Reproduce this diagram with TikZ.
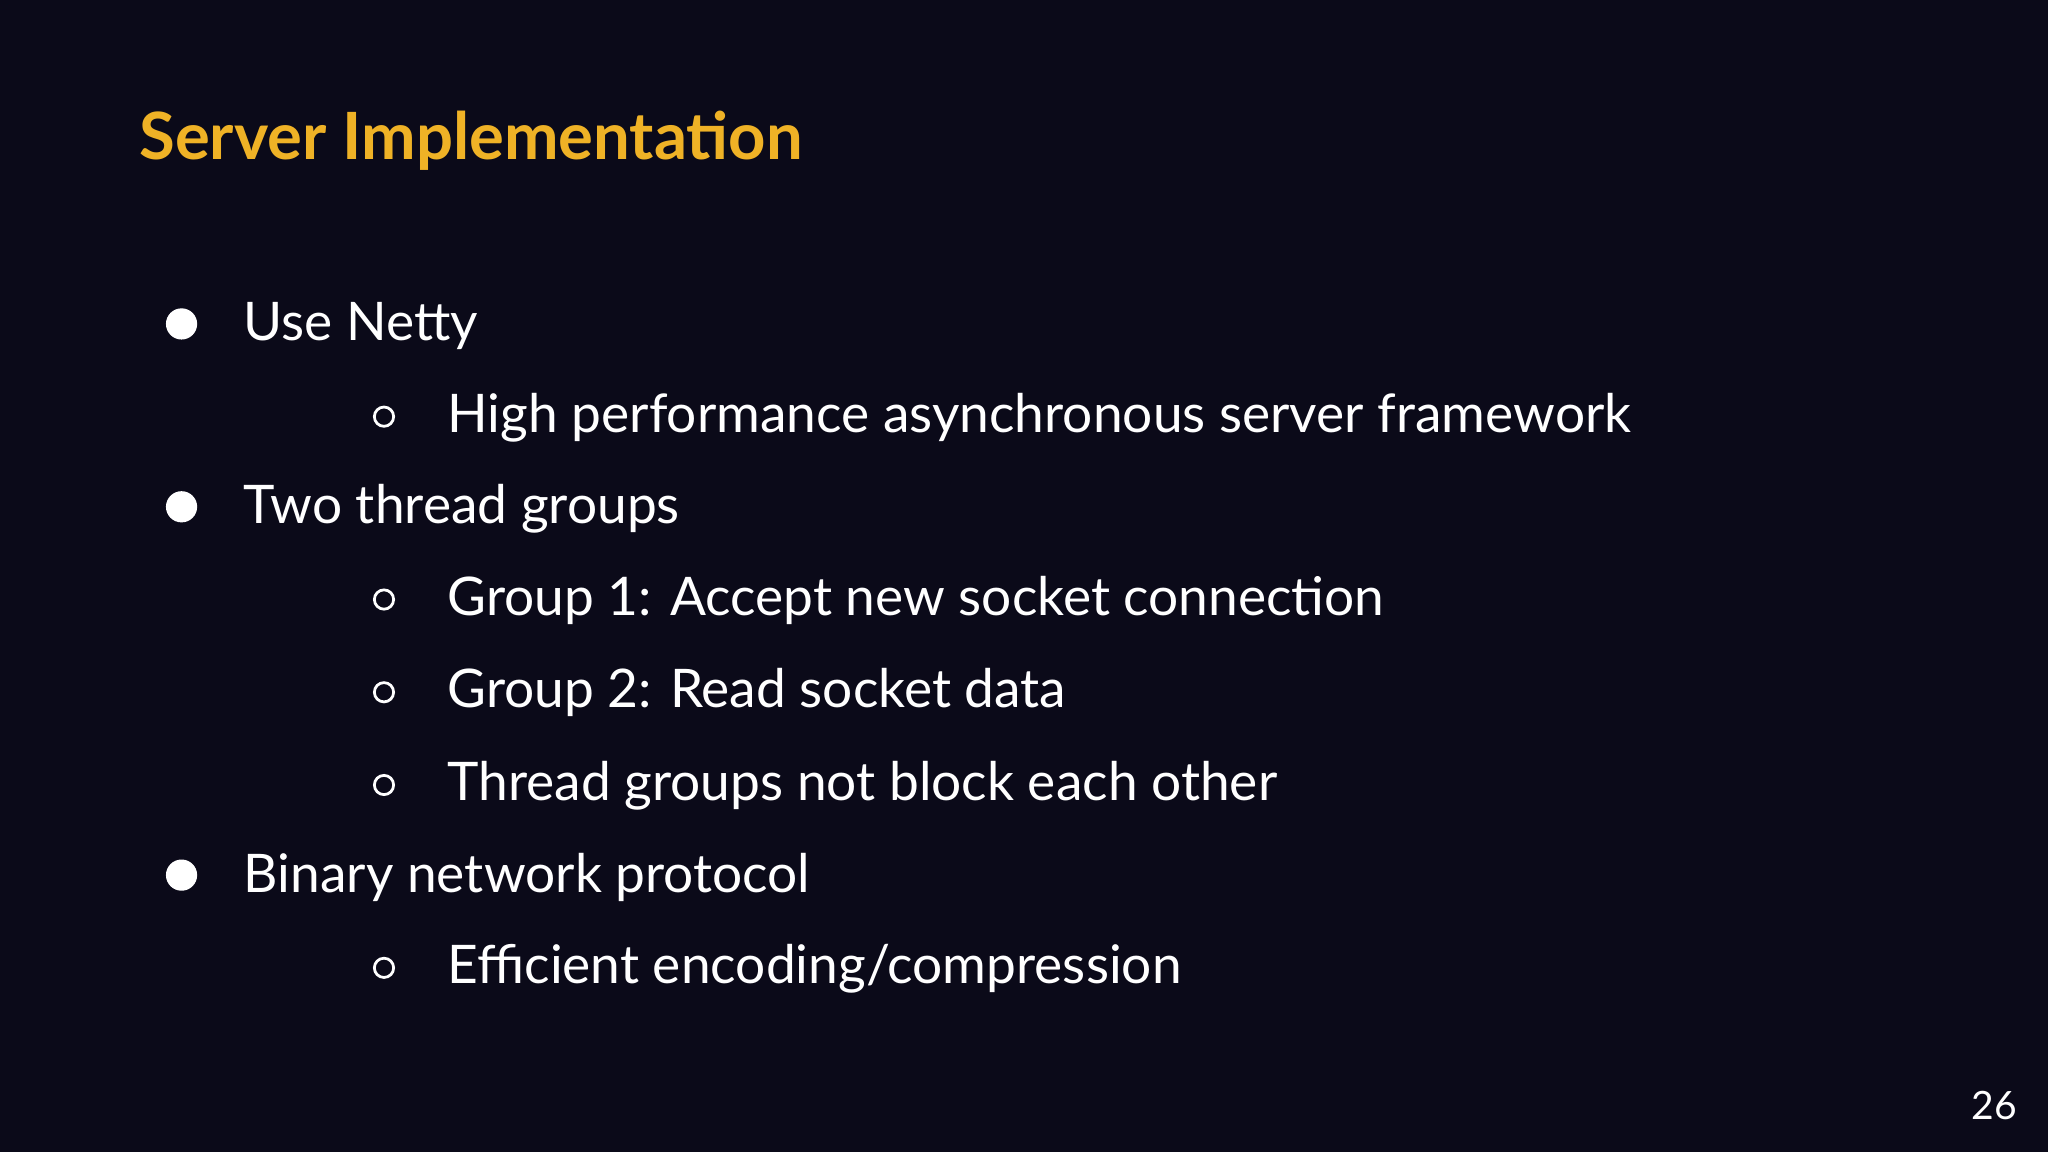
\documentclass[tikz,border=0pt]{standalone}
\usepackage{fontspec}
\setmainfont{Lato}
\definecolor{bg}{HTML}{0B0A19}
\definecolor{gold}{HTML}{EFB226}
\begin{document}
\begin{tikzpicture}[x=0.1mm,y=-0.1mm,
  body/.style={anchor=base west,text=white,font=\fontsize{11.6}{14}\selectfont,inner sep=0},
  dot/.style={circle,fill=white,minimum size=6.8pt,inner sep=0},
  ring/.style={circle,draw=white,line width=0.6pt,minimum size=4.2pt,inner sep=0}]
\fill[bg] (0,0) rectangle (1568,882);
\useasboundingbox (0,0) rectangle (1568,882);
\node[anchor=base west,text=gold,font=\fontsize{14.2}{17}\selectfont\bfseries,inner sep=0] (title) at (106,122) {Server Implementation};
\node[dot] (b1) at (139,248) {}; \node[body] (t1) at (186,261) {Use Netty};
\node[ring] (c1) at (294,319) {}; \node[body] (s1) at (342,331) {High performance asynchronous server framework};
\node[dot] (b2) at (139,388) {}; \node[body] (t2) at (186,401) {Two thread groups};
\node[ring] (c2) at (294,459) {}; \node[body] (s2) at (342,471) {Group 1: Accept new socket connection};
\node[ring] (c3) at (294,530) {}; \node[body] (s3) at (342,542) {Group 2: Read socket data};
\node[ring] (c4) at (294,601) {}; \node[body] (s4) at (342,613) {Thread groups not block each other};
\node[dot] (b3) at (139,670) {}; \node[body] (t3) at (186,683) {Binary network protocol};
\node[ring] (c5) at (294,741) {}; \node[body] (s5) at (342,753) {Efficient encoding/compression};
\node[anchor=base east,text=white,font=\fontsize{8.5}{10}\selectfont,inner sep=0] (pg) at (1545,857) {26};
\end{tikzpicture}
\end{document}
